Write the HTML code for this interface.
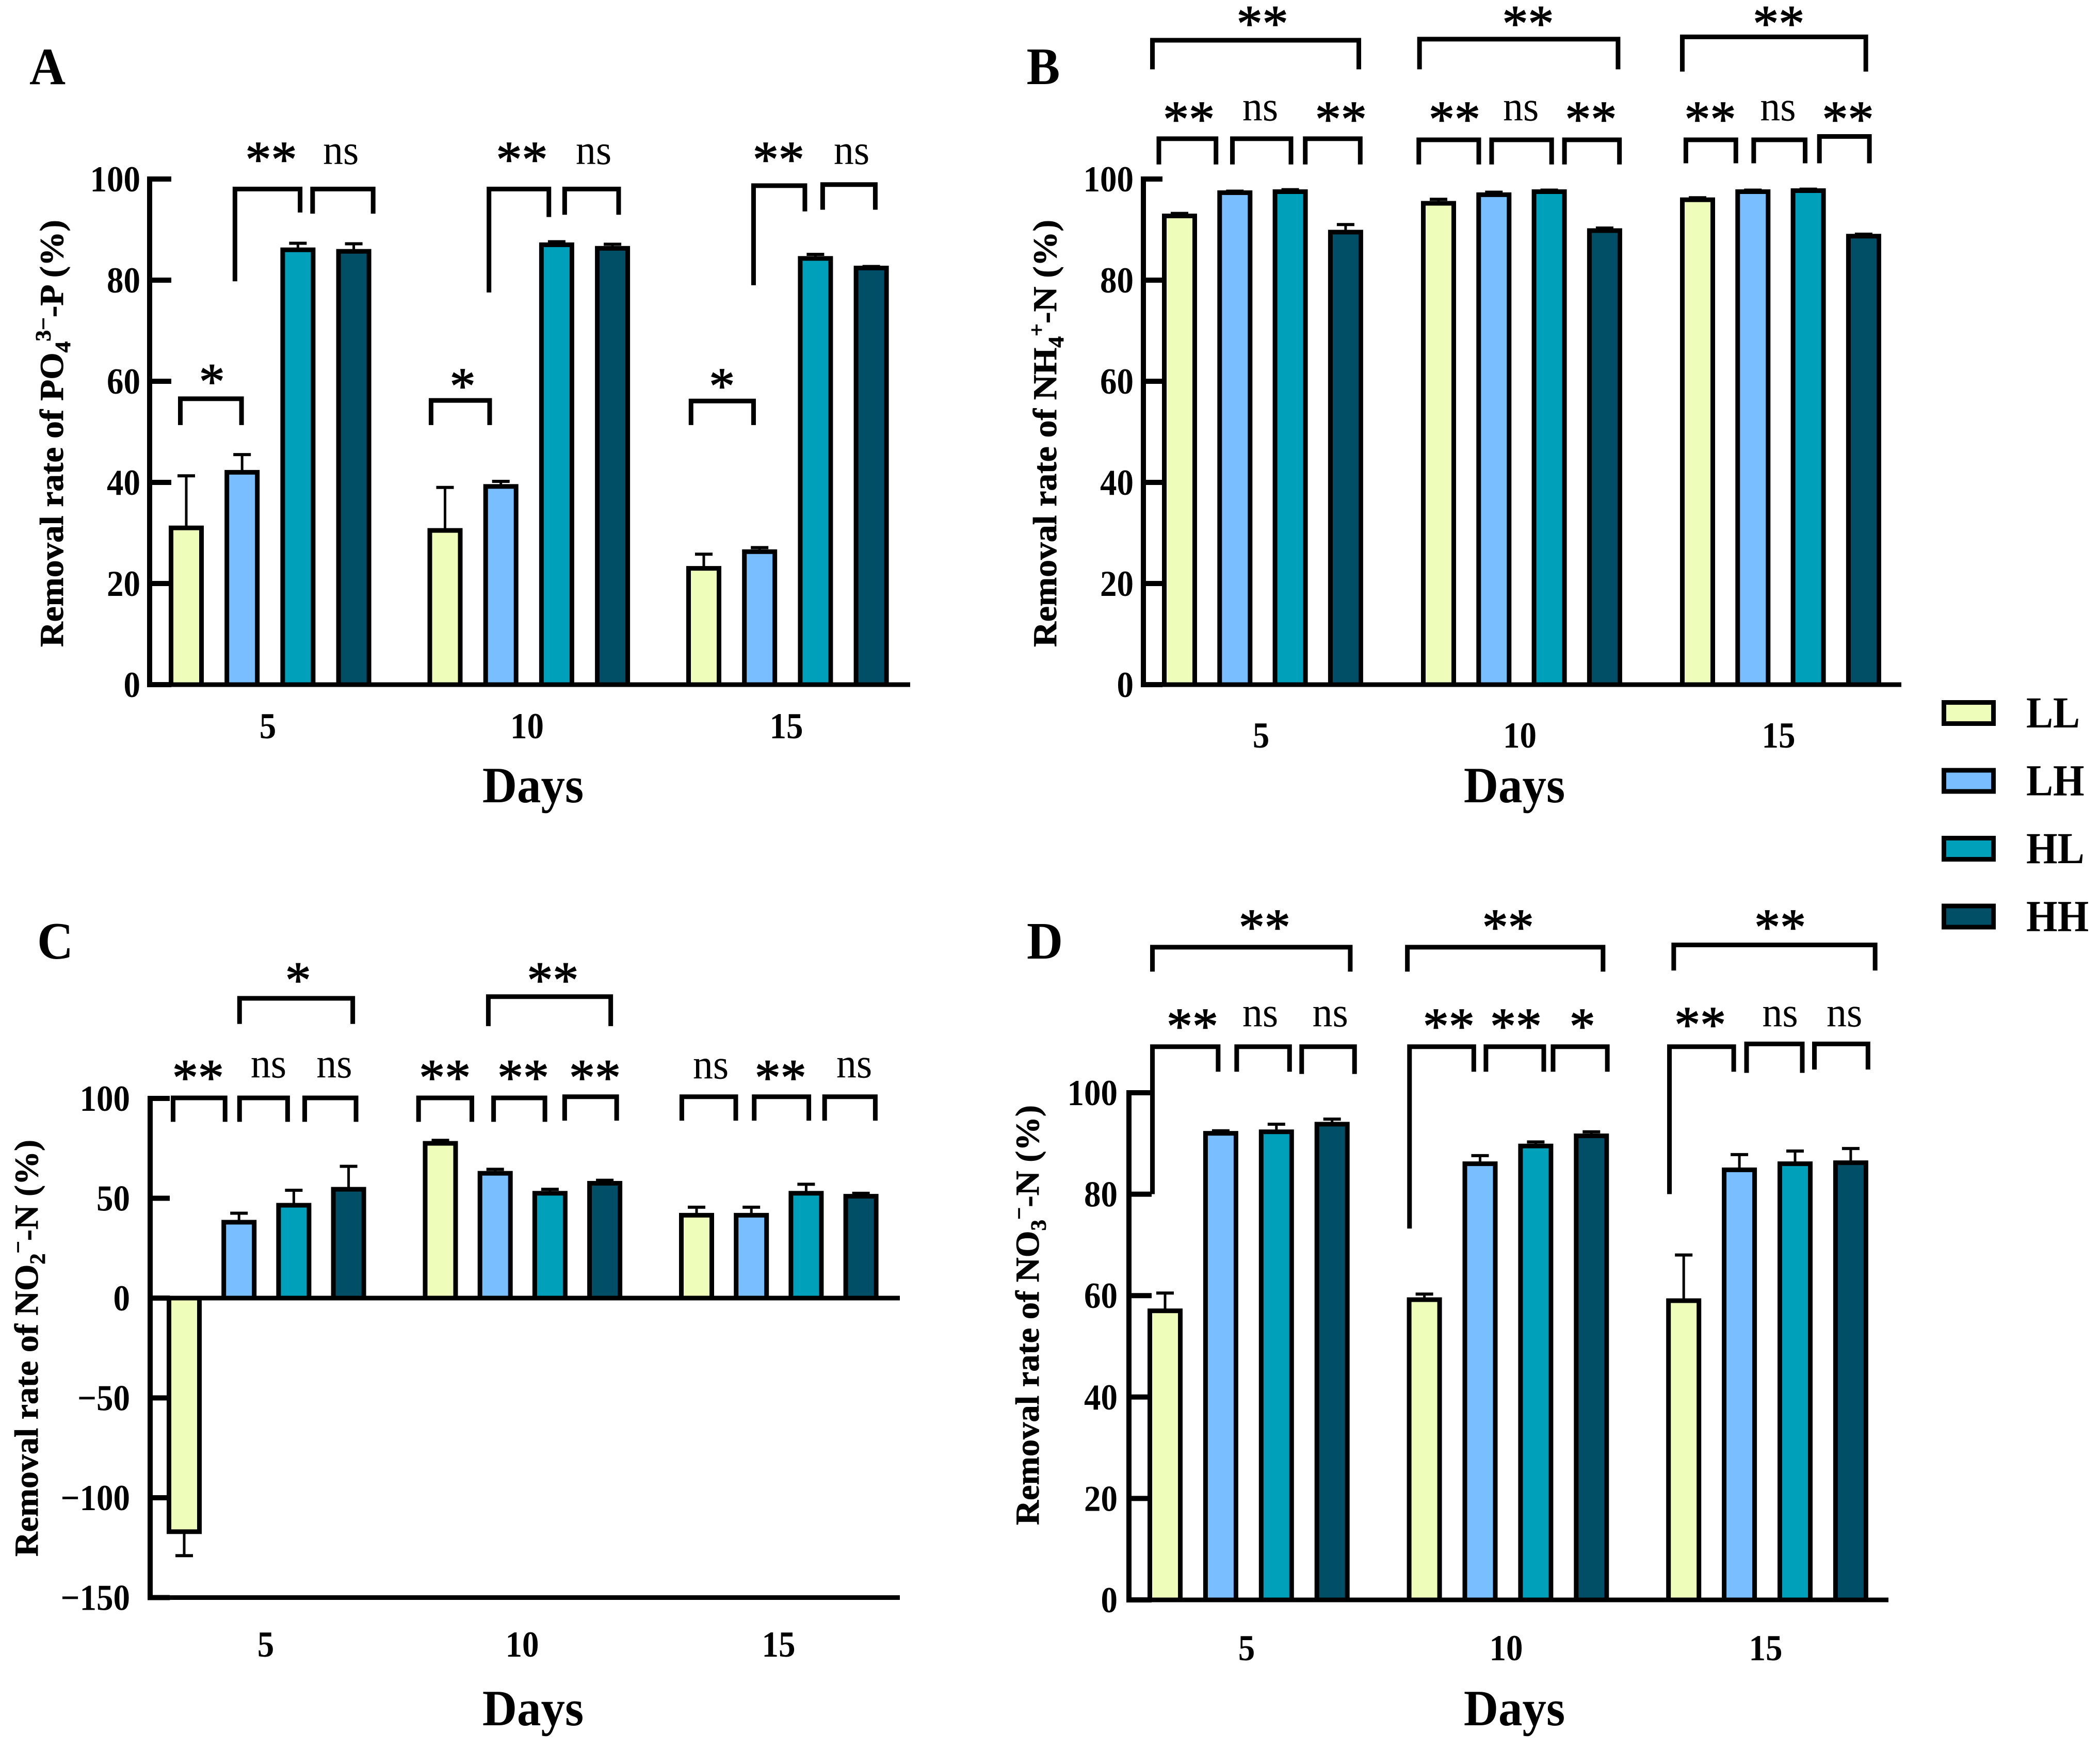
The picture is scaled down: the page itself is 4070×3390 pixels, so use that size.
<!DOCTYPE html>
<html lang="en">
<head>
<meta charset="utf-8">
<title>Removal rates by day</title>
<style>
html,body{margin:0;padding:0;background:#fff}
svg{display:block}
text{font-family:"Liberation Serif",serif;fill:#000}
</style>
</head>
<body>
<svg id="fig" xmlns="http://www.w3.org/2000/svg" width="4070" height="3390" viewBox="0 0 4070 3390"></svg>
<script>
const categories = ['5', '10', '15'];
const seriesNames = ['LL', 'LH', 'HL', 'HH'];
const seriesColors = ['#EFFDBA', '#79BEFF', '#009FBA', '#004F66'];
const ticksPositive = [0, 20, 40, 60, 80, 100];
const ticksC = [-150, -100, -50, 0, 50, 100];

const aLL = [31, 30.5, 23];
const aLH = [42, 39.2, 26.3];
const aHL = [86, 87, 84.3];
const aHH = [85.7, 86.3, 82.4];
const aLLErr = [10.3, 8.5, 2.8];
const aLHErr = [3.5, 1, 0.8];
const aHLErr = [1.3, 0.6, 0.8];
const aHHErr = [1.5, 0.8, 0.3];

const bLL = [92.7, 95.2, 95.9];
const bLH = [97.3, 96.9, 97.5];
const bHL = [97.5, 97.5, 97.7];
const bHH = [89.5, 89.8, 88.7];
const bLLErr = [0.5, 0.8, 0.4];
const bLHErr = [0.3, 0.5, 0.3];
const bHLErr = [0.4, 0.3, 0.3];
const bHHErr = [1.5, 0.5, 0.4];

const cLL = [-117, 77.5, 41.5];
const cLH = [38, 62.5, 41.5];
const cHL = [46.5, 52.5, 52.5];
const cHH = [54.5, 57.5, 51];
const cLLErr = [-12, 1.5, 4];
const cLHErr = [4.5, 2, 4];
const cHLErr = [7.5, 2, 4.5];
const cHHErr = [11.5, 1.5, 1.5];

const dLL = [57, 59.2, 59];
const dLH = [92, 86, 84.8];
const dHL = [92.3, 89.5, 86];
const dHH = [93.8, 91.5, 86.2];
const dLLErr = [3.5, 1.1, 9];
const dLHErr = [0.5, 1.6, 3];
const dHLErr = [1.5, 0.8, 2.5];
const dHHErr = [1, 0.8, 2.8];

const NS = 'http://www.w3.org/2000/svg';
const fig = document.getElementById('fig');

function node(parent, tag, attrs) {
  const el = document.createElementNS(NS, tag);
  for (const k in attrs) el.setAttribute(k, attrs[k]);
  parent.appendChild(el);
  return el;
}

function tall(x, y, sy) {
  return 'translate(' + x + ',' + y + ') scale(1,' + sy + ')';
}

function xScale(p, g, s) {
  return p.firstBar + p.groupPitch * g + p.barPitch * s;
}

function yScale(p, v) {
  return p.zeroY + (v / 100) * (p.hundredY - p.zeroY);
}

function drawPanel(p, values, errors, ticks) {
  const g = node(fig, 'g', {});
  
  

  const letter = node(g, 'text', {transform: tall(p.letterX, p.letterY, 1.05), 'text-anchor': 'middle', 'font-size': 97, 'font-weight': 'bold'});
  letter.textContent = p.id;
  
  

  values.forEach(function (series, s) {
    series.forEach(function (v, c) {
      const cx = xScale(p, c, s);
      const y = yScale(p, v);
      const y0 = yScale(p, 0);
      const err = errors[s][c];
      const ey = yScale(p, v + err);

      const stem = node(g, 'line', {x1: cx, x2: cx, y1: y, y2: ey, stroke: '#000', 'stroke-width': 5});
      
      
      const cap = node(g, 'line', {x1: cx - 17, x2: cx + 17, y1: ey, y2: ey, stroke: '#000', 'stroke-width': 6});
      
      

      const bar = node(g, 'rect', {x: cx - 29.5, y: Math.min(y, y0), width: 59, height: Math.abs(y0 - y), fill: seriesColors[s], stroke: '#000', 'stroke-width': 9});
      
      
    });
  });

  const yaxis = node(g, 'line', {x1: p.axisX, x2: p.axisX, y1: yScale(p, ticks[ticks.length - 1]) - 5, y2: yScale(p, ticks[0]) + 5, stroke: '#000', 'stroke-width': 10});
  
  

  const xaxis = node(g, 'line', {x1: p.axisX, x2: p.right, y1: yScale(p, 0), y2: yScale(p, 0), stroke: '#000', 'stroke-width': 9});
  
  

  if (ticks[0] < 0) {
    const bottom = node(g, 'line', {x1: p.axisX, x2: p.right, y1: yScale(p, ticks[0]), y2: yScale(p, ticks[0]), stroke: '#000', 'stroke-width': 9});
    
    
  }

  ticks.forEach(function (t) {
    const y = yScale(p, t);
    const tick = node(g, 'line', {x1: p.axisX, x2: p.tickEnd, y1: y, y2: y, stroke: '#000', 'stroke-width': 10});
    
    
    const lab = node(g, 'text', {transform: tall(p.labelRight, y + 24, 1.1), 'text-anchor': 'end', 'font-size': 65, 'font-weight': 'bold'});
    lab.textContent = String(t).replace('-', '\u2212');
    
    
  });

  categories.forEach(function (c, i) {
    const lab = node(g, 'text', {transform: tall(p.xLabelX + p.xLabelPitch * i, p.xLabelY, 1.1), 'text-anchor': 'middle', 'font-size': 65, 'font-weight': 'bold'});
    lab.textContent = c;
    
    
  });

  const days = node(g, 'text', {transform: tall(p.daysX, p.daysY, 1.06), 'text-anchor': 'middle', 'font-size': 93, 'font-weight': 'bold'});
  days.textContent = 'Days';
  
  

  const title = node(g, 'text', {transform: 'translate(' + p.titleX + ',' + p.titleY + ') rotate(-90)', 'text-anchor': 'middle', 'font-size': 65, 'font-weight': 'bold', stroke: '#000', 'stroke-width': 0.8, textLength: p.titleLen, lengthAdjust: 'spacingAndGlyphs'});
  
  
  const t1 = node(title, 'tspan', {});
  t1.textContent = p.title[0];
  const t2 = node(title, 'tspan', {dy: 14, 'font-size': 42});
  t2.textContent = p.title[1];
  const t3 = node(title, 'tspan', {dy: -38, 'font-size': 42});
  t3.textContent = p.title[2];
  const t4 = node(title, 'tspan', {dy: 24});
  t4.textContent = p.title[3];

  return g;
}

function annotate(group, p, z) {
  const zx = function (v) { return p.zOffX + v * p.zScaleX; };
  const zy = function (v) { return p.zOffY + v * p.zScaleY; };
  z.forEach(function (a) {
    const d = 'M' + zx(a[0]) + ' ' + zy(a[3]) + 'V' + zy(a[2]) + 'H' + zx(a[1]) + 'V' + zy(a[4]);
    const br = node(group, 'path', {d: d, fill: 'none', stroke: '#000', 'stroke-width': 9});
    
    
    const cx = zx(a[6]);
    const cy = zy(a[7]);
    let tx;
    if (a[5] === 'ns') {
      tx = node(group, 'text', {transform: tall(cx, cy + 22, 1.05), 'text-anchor': 'middle', 'font-size': 78});
    } else {
      tx = node(group, 'text', {x: cx, y: cy + 44, 'text-anchor': 'middle', 'font-size': 100, stroke: '#000', 'stroke-width': 1.5});
    }
    tx.textContent = a[5];
    
    
  });
}

const panelA = {id: 'A', axisX: 290, right: 1764, hundredY: 347, zeroY: 1327, tickEnd: 332, labelRight: 272,
  firstBar: 361, barPitch: 108.2, groupPitch: 501.5, letterX: 92, letterY: 163,
  xLabelX: 519, xLabelPitch: 502.5, xLabelY: 1431, daysX: 1033, daysY: 1555,
  titleX: 122, titleY: 840, titleLen: 828, title: ['Removal rate of PO', '4', '3\u2212', '-P (%)'],
  zOffX: 0, zOffY: 0, zScaleX: 1.2755, zScaleY: 1.084};
const panelB = {id: 'B', axisX: 2216, right: 3685, hundredY: 347, zeroY: 1327, tickEnd: 2253, labelRight: 2197,
  firstBar: 2286, barPitch: 107.3, groupPitch: 502, letterX: 2022, letterY: 163,
  xLabelX: 2444, xLabelPitch: 501.5, xLabelY: 1449, daysX: 2935, daysY: 1555,
  titleX: 2047, titleY: 840, titleLen: 828, title: ['Removal rate of NH', '4', '+', '-N (%)'],
  zOffX: 1900, zOffY: 0, zScaleX: 1.384, zScaleY: 1.084};
const panelC = {id: 'C', axisX: 291, right: 1744, hundredY: 2129, zeroY: 2516, tickEnd: 329, labelRight: 252,
  firstBar: 357, barPitch: 106.2, groupPitch: 496.5, letterX: 107, letterY: 1858,
  xLabelX: 515, xLabelPitch: 497, xLabelY: 3211, daysX: 1033, daysY: 3344,
  titleX: 73, titleY: 2613, titleLen: 808, title: ['Removal rate of NO', '2', '\u2212', '-N (%)'],
  zOffX: 0, zOffY: 1700, zScaleX: 1.2755, zScaleY: 1.078};
const panelD = {id: 'D', axisX: 2188, right: 3660, hundredY: 2118, zeroY: 3101, tickEnd: 2232, labelRight: 2166,
  firstBar: 2258, barPitch: 107.9, groupPitch: 502.6, letterX: 2025, letterY: 1858,
  xLabelX: 2416, xLabelPitch: 503, xLabelY: 3218, daysX: 2935, daysY: 3344,
  titleX: 2013, titleY: 2549, titleLen: 814, title: ['Removal rate of NO', '3', '\u2212', '-N (%)'],
  zOffX: 1900, zOffY: 1700, zScaleX: 1.384, zScaleY: 1.078};

const gA = drawPanel(panelA, [aLL, aLH, aHL, aHH], [aLLErr, aLHErr, aHLErr, aHHErr], ticksPositive);
const gB = drawPanel(panelB, [bLL, bLH, bHL, bHH], [bLLErr, bLHErr, bHLErr, bHHErr], ticksPositive);
const gC = drawPanel(panelC, [cLL, cLH, cHL, cHH], [cLLErr, cLHErr, cHLErr, cHHErr], ticksC);
const gD = drawPanel(panelD, [dLL, dLH, dHL, dHH], [dLLErr, dLHErr, dHLErr, dHHErr], ticksPositive);

annotate(gA, panelA, [
  [274, 367, 713, 760, 760, '*', 322, 672],
  [357, 456, 338, 503, 380, '**', 412, 275],
  [475, 567, 338, 382, 382, 'ns', 518, 273],
  [655, 744, 716, 760, 760, '*', 703, 680],
  [743, 834, 338, 523, 388, '**', 793, 275],
  [858, 940, 338, 384, 384, 'ns', 902, 273],
  [1050, 1145, 717, 760, 760, '*', 1097, 680],
  [1145, 1223, 332, 510, 378, '**', 1183, 275],
  [1250, 1330, 330, 375, 375, 'ns', 1294, 273]
]);
annotate(gB, panelB, [
  [241, 530, 72, 124, 124, '**', 395, 32],
  [615, 893, 70, 124, 124, '**', 767, 32],
  [983, 1240, 66, 128, 128, '**', 1118, 32],
  [250, 330, 248, 294, 294, '**', 292, 203],
  [353, 435, 248, 294, 294, 'ns', 392, 195],
  [455, 532, 248, 294, 294, '**', 505, 203],
  [614, 698, 250, 294, 294, '**', 664, 203],
  [716, 800, 250, 294, 294, 'ns', 757, 195],
  [818, 895, 250, 294, 294, '**', 855, 203],
  [988, 1058, 250, 292, 292, '**', 1022, 203],
  [1083, 1155, 250, 292, 292, 'ns', 1117, 195],
  [1175, 1245, 244, 292, 292, '**', 1215, 203]
]);
annotate(gC, panelC, [
  [364, 536, 218, 264, 264, '*', 453, 175],
  [742, 928, 215, 268, 268, '**', 840, 175],
  [263, 342, 397, 440, 440, '**', 301, 350],
  [364, 437, 397, 440, 440, 'ns', 408, 340],
  [463, 541, 397, 440, 440, 'ns', 508, 340],
  [636, 717, 397, 440, 440, '**', 676, 350],
  [750, 828, 397, 440, 440, '**', 795, 350],
  [858, 937, 395, 438, 438, '**', 904, 350],
  [1036, 1118, 395, 438, 438, 'ns', 1080, 342],
  [1146, 1229, 395, 438, 438, '**', 1186, 350],
  [1253, 1330, 395, 438, 438, 'ns', 1298, 340]
]);
annotate(gD, panelD, [
  [241, 518, 126, 170, 170, '**', 398, 80],
  [598, 872, 126, 170, 170, '**', 739, 80],
  [971, 1253, 122, 168, 168, '**', 1120, 80],
  [241, 333, 305, 570, 350, '**', 297, 258],
  [359, 433, 305, 350, 350, 'ns', 392, 248],
  [450, 524, 305, 354, 354, 'ns', 490, 248],
  [601, 691, 305, 632, 350, '**', 656, 258],
  [708, 789, 305, 350, 350, '**', 750, 258],
  [802, 878, 305, 350, 350, '*', 843, 258],
  [965, 1055, 305, 570, 350, '**', 1008, 255],
  [1073, 1151, 300, 352, 352, 'ns', 1120, 248],
  [1168, 1243, 300, 346, 346, 'ns', 1210, 248]
]);

const legend = node(fig, 'g', {});


seriesNames.forEach(function (name, i) {
  const top = 1361.5 + i * 131.5;
  const sw = node(legend, 'rect', {x: 3767.5, y: top, width: 96, height: 41, fill: seriesColors[i], stroke: '#000', 'stroke-width': 9});
  
  
  const lab = node(legend, 'text', {transform: tall(3927, top + 48.5, 1.1), 'font-size': 78, 'font-weight': 'bold'});
  lab.textContent = name;
  
  
});
</script>
</body>
</html>
